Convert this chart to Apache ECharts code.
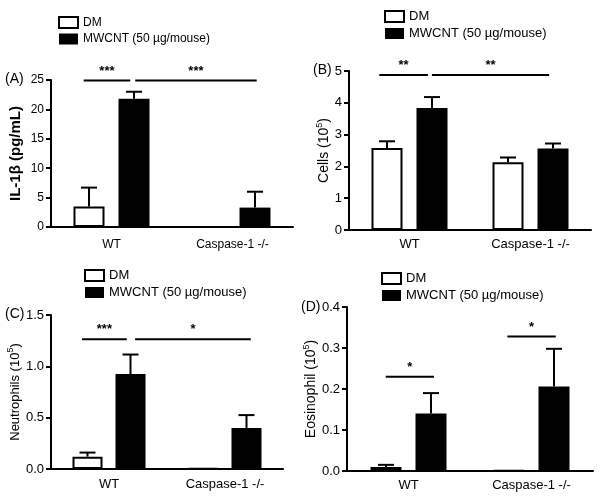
<!DOCTYPE html>
<html>
<head>
<meta charset="utf-8">
<script src="https://cdn.jsdelivr.net/npm/echarts@6/dist/echarts.min.js"></script>
<style>
  html, body { margin: 0; padding: 0; background: #fff; }
  #chart { width: 602px; height: 501px; }
</style>
</head>
<body>
<div id="chart"></div>
<script>
const groups = ['WT', 'Caspase-1 -/-']
const seriesNames = ['DM', 'MWCNT (50 µg/mouse)']
const panelLabels = ['(A)', '(B)', '(C)', '(D)']

// (A) IL-1β
const il1bDM = [3.5, 0]
const il1bDMErr = [3.2, 0]
const il1bMW = [21.8, 3.3]
const il1bMWErr = [1.2, 2.7]
// (B) total cells
const cellsDM = [2.58, 2.13]
const cellsDMErr = [0.21, 0.15]
const cellsMW = [3.84, 2.56]
const cellsMWErr = [0.34, 0.16]
// (C) neutrophils
const neutDM = [0.12, 0.005]
const neutDMErr = [0.04, 0]
const neutMW = [0.925, 0.40]
const neutMWErr = [0.19, 0.125]
// (D) eosinophils
const eosDM = [0.01, 0.001]
const eosDMErr = [0.005, 0]
const eosMW = [0.14, 0.206]
const eosMWErr = [0.05, 0.092]

// y axis ranges [min, max, interval]
const yRangeA = [0, 25, 5]
const yRangeB = [0, 5, 1]
const yRangeC = [0, 1.5, 0.5]
const yRangeD = [0, 0.4, 0.1]

// significance lines: [from, to, y, stars], x in category index units
const sigA = [[-0.23, 0.155, 24.9, '***'], [0.196, 1.2, 24.9, '***']]
const sigB = [[-0.25, 0.152, 4.875, '**'], [0.185, 1.154, 4.875, '**']]
const sigC = [[-0.233, 0.153, 1.263, '***'], [0.225, 1.222, 1.263, '*']]
const sigD = [[-0.185, 0.207, 0.23, '*'], [0.804, 1.197, 0.328, '*']]

const panels = [
  { dm: il1bDM, dmErr: il1bDMErr, mw: il1bMW, mwErr: il1bMWErr, range: yRangeA, sig: sigA,
    grid: { left: 51, right: 309, top: 80, bottom: 274 }, bw: 31, gap: 14, fs: 12, decimals: 0,
    name: 'IL-1β (pg/mL)', nameGap: 28, bold: true, xMargin: 12,
    legend: { left: 58, top: 16 }, tag: { left: 5, top: 72 } },
  { dm: cellsDM, dmErr: cellsDMErr, mw: cellsMW, mwErr: cellsMWErr, range: yRangeB, sig: sigB,
    grid: { left: 349, right: 11, top: 71, bottom: 271 }, bw: 31, gap: 14, fs: 13, decimals: 0,
    name: 'Cells (10', nameGap: 17, nameSize: 14, xMargin: 8,
    legend: { left: 384, top: 10 }, tag: { left: 313, top: 63 } },
  { dm: neutDM, dmErr: neutDMErr, mw: neutMW, mwErr: neutMWErr, range: yRangeC, sig: sigC,
    grid: { left: 51, right: 319, top: 315, bottom: 32 }, bw: 30, gap: 13, fs: 13, decimals: 1,
    name: 'Neutrophils (10', nameGap: 26, nameSize: 13, xMargin: 9,
    legend: { left: 84, top: 269 }, tag: { left: 5, top: 307 } },
  { dm: eosDM, dmErr: eosDMErr, mw: eosMW, mwErr: eosMWErr, range: yRangeD, sig: sigD,
    grid: { left: 347, right: 9, top: 307, bottom: 30 }, bw: 31, gap: 14, fs: 13, decimals: 1,
    name: 'Eosinophil (10', nameGap: 23, nameSize: 14, xMargin: 8,
    legend: { left: 381, top: 272 }, tag: { left: 301, top: 300 } }
]

const font = 'Liberation Sans, Arial, sans-serif'
const chart = echarts.init(document.getElementById('chart'))

const option = {
  animation: false,
  textStyle: { fontFamily: font, color: '#000' },
  title: [], legend: [], grid: [], xAxis: [], yAxis: [], series: []
}

panels.forEach((p, i) => {
  option.title.push({ text: panelLabels[i], left: p.tag.left, top: p.tag.top, padding: 0,
    textStyle: { fontSize: 14, fontWeight: 'normal', color: '#000', fontFamily: font } })
  option.legend.push({
    orient: 'vertical', left: p.legend.left, top: p.legend.top, padding: 0,
    itemWidth: 19, itemHeight: 11, itemGap: 4, icon: 'rect', selectedMode: false,
    textStyle: { fontSize: p.fs, color: '#000', fontFamily: font },
    data: [
      { name: seriesNames[0], itemStyle: { color: '#fff', borderColor: '#000', borderWidth: 2 } },
      { name: seriesNames[1], itemStyle: { color: '#000', borderWidth: 0 } }
    ]
  })
  option.grid.push(Object.assign({ outerBoundsMode: 'none' }, p.grid))
  option.xAxis.push({
    type: 'category', gridIndex: i, data: groups,
    axisLine: { lineStyle: { color: '#000', width: 2 } },
    axisTick: { alignWithLabel: true, length: 5, lineStyle: { color: '#000', width: 2 } },
    axisLabel: { color: '#000', fontSize: p.fs, margin: p.xMargin, fontFamily: font }
  })
  const nameText = p.bold ? p.name : '{n|' + p.name + '}{s|5}{n|)}'
  option.yAxis.push({
    type: 'value', gridIndex: i, min: p.range[0], max: p.range[1], interval: p.range[2],
    splitLine: { show: false },
    axisLine: { show: true, lineStyle: { color: '#000', width: 2 } },
    axisTick: { show: true, length: 5, lineStyle: { color: '#000', width: 2 } },
    axisLabel: { color: '#000', fontSize: p.fs, margin: 7, fontFamily: font,
      formatter: v => v.toFixed(p.decimals) },
    name: nameText, nameLocation: 'middle', nameGap: p.nameGap, nameRotate: 90,
    nameTextStyle: p.bold
      ? { fontSize: 15, fontWeight: 'bold', color: '#000', fontFamily: font }
      : { color: '#000', fontFamily: font, rich: {
          n: { fontSize: p.nameSize, fontFamily: font, color: '#000', lineHeight: 16, verticalAlign: 'bottom' },
          s: { fontSize: 9, fontFamily: font, color: '#000', lineHeight: 16, verticalAlign: 'top' } } }
  })
  option.series.push({
    type: 'bar', name: seriesNames[0], xAxisIndex: i, yAxisIndex: i, data: p.dm,
    barWidth: p.bw, barGap: (p.gap / p.bw * 100) + '%', silent: true,
    itemStyle: { color: '#fff', borderColor: '#000', borderWidth: 2 }
  })
  option.series.push({
    type: 'bar', name: seriesNames[1], xAxisIndex: i, yAxisIndex: i, data: p.mw,
    barWidth: p.bw, barGap: (p.gap / p.bw * 100) + '%', silent: true,
    itemStyle: { color: '#000' }
  })
  // error bars (upper only)
  const errData = []
  p.dm.forEach((v, k) => errData.push([k, v, p.dmErr[k], -1]))
  p.mw.forEach((v, k) => errData.push([k, v, p.mwErr[k], 1]))
  const half = (p.bw + p.gap) / 2
  option.series.push({
    type: 'custom', xAxisIndex: i, yAxisIndex: i, silent: true, data: errData, z: 1,
    renderItem: (params, api) => {
      const e = api.value(2)
      if (!e) return { type: 'group', children: [] }
      const base = api.coord([api.value(0), api.value(1)])
      const top = api.coord([api.value(0), api.value(1) + e])
      const x = base[0] + api.value(3) * half
      const st = { stroke: '#000', lineWidth: 2 }
      return { type: 'group', children: [
        { type: 'line', shape: { x1: x, y1: base[1], x2: x, y2: top[1] }, style: st },
        { type: 'line', shape: { x1: x - 8, y1: top[1], x2: x + 8, y2: top[1] }, style: st }
      ] }
    }
  })
  // significance brackets
  option.series.push({
    type: 'custom', xAxisIndex: i, yAxisIndex: i, silent: true,
    data: p.sig.map(s => [0, s[2], s[0], s[1]]),
    renderItem: (params, api) => {
      const s = p.sig[params.dataIndex]
      const c0 = api.coord([0, s[2]])
      const c1 = api.coord([1, s[2]])
      const w = c1[0] - c0[0]
      const xa = c0[0] + s[0] * w
      const xb = c0[0] + s[1] * w
      return { type: 'group', children: [
        { type: 'line', shape: { x1: xa, y1: c0[1], x2: xb, y2: c0[1] }, style: { stroke: '#000', lineWidth: 2 } },
        { type: 'text', style: { text: s[3], x: (xa + xb) / 2, y: c0[1] - 3, align: 'center',
          verticalAlign: 'bottom', font: 'bold 13px ' + font, fill: '#000' } }
      ] }
    }
  })
})

chart.setOption(option)
window.onresize = function () {
  chart.resize()
}
</script>
</body>
</html>
